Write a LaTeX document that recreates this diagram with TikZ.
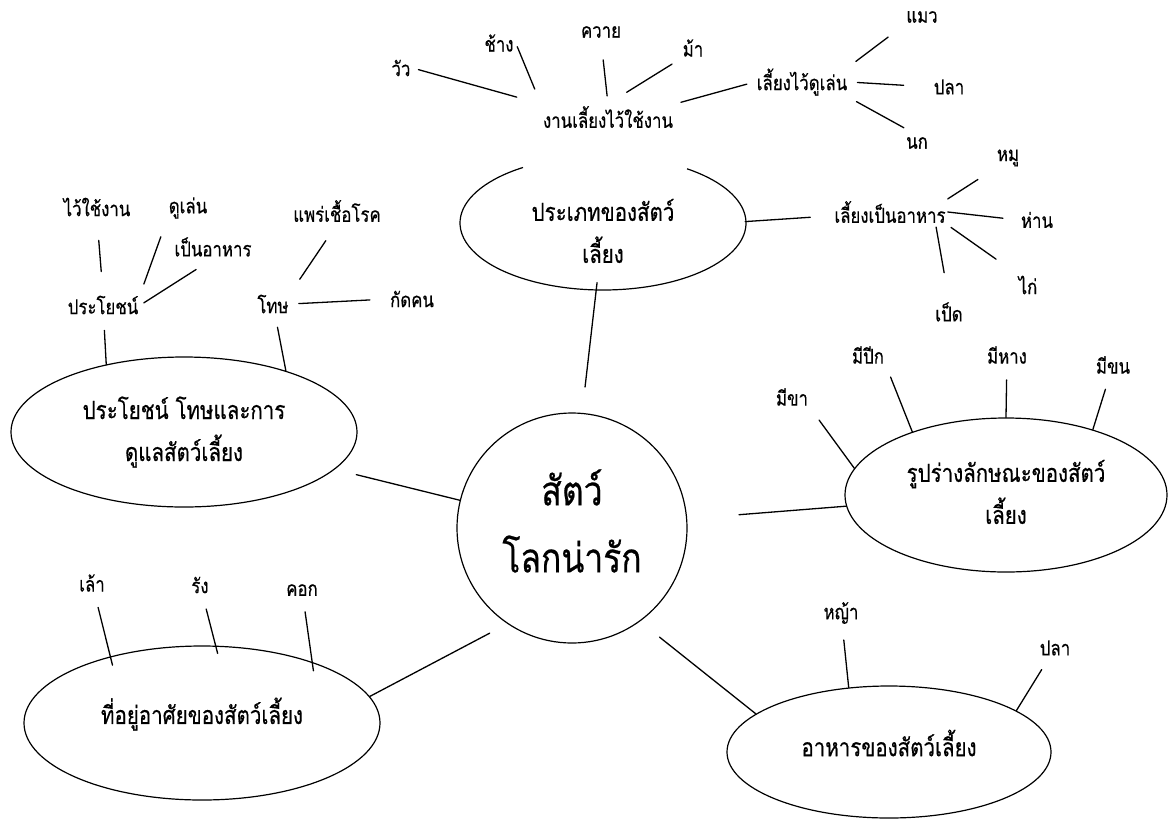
\documentclass[tikz,border=0pt]{standalone}
\usepackage{fontspec}
\setmainfont[Script=Thai, FakeStretch=0.82, FakeBold=0.5]{Loma}
\usetikzlibrary{shapes.geometric}

\newcommand{\monte}[2]{\raisebox{#1}[\height][\depth]{#2}}

\tikzset{
	mot/.style={font=\fontsize{20.5}{24}\selectfont, inner sep=2pt},
	bulle/.style={draw, ellipse, line width=1.2pt, inner sep=0pt, align=center, font=\fontsize{25}{42}\selectfont},
	trait/.style={line width=1.3pt, line cap=round}
}

\begin{document}
\begin{tikzpicture}[x=1pt,y=-1pt]
\useasboundingbox (0,0) rectangle (1173,823);
%					Cercle central :
					\node[draw, circle, line width=1.2pt, minimum size=230pt, align=center, font=\fontsize{41}{67}\selectfont] (centre) at (572,528) {\monte{7pt}{สัตว์}\\\monte{7pt}{โลกน่ารัก}};
%					Bulles :
					\node[bulle, draw=none, minimum width=286pt, minimum height=134pt] (type) at (603,231) {ประเภทของสัตว์\\เลี้ยง};
					\draw[line width=1.2pt] ([shift={(603,223)}]306:143 and 67) arc[start angle=306, end angle=596, x radius=143, y radius=67];
					\node[bulle, minimum width=346pt, minimum height=150pt] (care) at (184,432) {ประโยชน์ โทษและการ\\ดูแลสัตว์เลี้ยง};
					\node[bulle, minimum width=322pt, minimum height=154pt] (shape) at (1006,495) {\monte{3pt}{รูปร่างลักษณะของสัตว์}\\\monte{3pt}{เลี้ยง}};
					\node[bulle, minimum width=356pt, minimum height=154pt] (home) at (202,723) {\monte{9pt}{ที่อยู่อาศัยของสัตว์เลี้ยง}};
					\node[bulle, minimum width=324pt, minimum height=132pt] (food) at (889,752) {\monte{9pt}{อาหารของสัตว์เลี้ยง}};
%					Mots du haut :
					\node[mot] (work) at (608,117) {งานเลี้ยงไว้ใช้งาน};
					\node[mot] (wua) at (401,68) {วัว};
					\node[mot] (chang) at (499,43) {ช้าง};
					\node[mot] (khwai) at (601,32) {ควาย};
					\node[mot] (ma) at (693,48) {ม้า};
					\node[mot] (pet) at (802,82) {เลี้ยงไว้ดูเล่น};
					\node[mot] (maeo) at (922,17) {แมว};
					\node[mot] (pla) at (949,87) {ปลา};
					\node[mot] (nok) at (917,143) {นก};
					\node[mot] (feed) at (890,212) {เลี้ยงเป็นอาหาร};
					\node[mot] (mu) at (1008,158) {หมู};
					\node[mot] (han) at (1037,220) {ห่าน};
					\node[mot] (kai) at (1028,285) {ไก่};
					\node[mot] (duck) at (949,312) {เป็ด};
%					Mots de gauche :
					\node[mot] (use) at (97,207) {ไว้ใช้งาน};
					\node[mot] (play) at (188,208) {ดูเล่น};
					\node[mot] (eat) at (213,247) {เป็นอาหาร};
					\node[mot] (germ) at (337,211) {แพร่เชื้อโรค};
					\node[mot] (good) at (103,305) {ประโยชน์};
					\node[mot] (bad) at (273,304) {โทษ};
					\node[mot] (bite) at (412,299) {กัดคน};
%					Mots de droite et du bas :
					\node[mot] (legs) at (792,397) {มีขา};
					\node[mot] (wings) at (868,355) {มีปีก};
					\node[mot] (tail) at (1007,355) {มีหาง};
					\node[mot] (fur) at (1113,365) {มีขน};
					\node[mot] (coop) at (92,583) {เล้า};
					\node[mot] (nest) at (200,585) {รัง};
					\node[mot] (pen) at (302,590) {คอก};
					\node[mot] (grass) at (841,613) {หญ้า};
					\node[mot] (fish) at (1055,648) {ปลา};
%					Traits vers le cercle :
					\draw[trait, shorten <=-16pt, shorten >=26pt] (type) -- (centre.85);
					\draw[trait, shorten <=22pt] (care) -- (centre);
					\draw[trait, shorten >=52pt] (shape.184) -- (centre);
					\draw[trait, shorten >=20pt] (home.9) -- (centre.236);
					\draw[trait, shorten >=25pt] (food.164) -- (centre.-54);
%					Traits du haut :
					\draw[trait, shorten <=6pt, shorten >=25pt] (wua.east) -- (work.north west);
					\draw[trait, shorten <=4pt, shorten >=16pt] (chang.east) -- (work.north west);
					\draw[trait, shorten <=20pt, shorten >=8pt] (khwai.south) -- (work.north);
					\draw[trait, shorten <=10pt, shorten >=22pt] (ma.south west) -- (work.north);
					\draw[trait, shorten <=6pt, shorten >=8pt] (work.north east) -- (pet.west);
					\draw[trait, shorten <=8pt, shorten >=20pt] (pet.north east) -- (maeo.south west);
					\draw[trait, shorten <=8pt, shorten >=28pt] (pet.east) -- (pla.west);
					\draw[trait, shorten <=8pt, shorten >=15pt] (pet.south east) -- (nok.north);
					\draw[trait, shorten >=22pt] (type) -- (feed);
					\draw[trait, shorten >=20pt] (feed.north east) -- (mu.south west);
					\draw[trait, shorten >=16pt] (feed.east) -- (han.west);
					\draw[trait, shorten <=4pt, shorten >=25pt] (feed.south east) -- (kai.north west);
					\draw[trait, shorten <=2pt, shorten >=28pt] ([xshift=-12pt]feed.south east) -- (duck.north);
%					Traits de gauche :
					\draw[trait, shorten <=22pt, shorten >=22pt] (use.south) -- (good.north);
					\draw[trait, shorten <=17pt, shorten >=10pt] (play.south west) -- (good.north east);
					\draw[trait, shorten <=20pt, shorten >=4pt] (eat.south) -- (good.east);
					\draw[trait, shorten <=20pt, shorten >=16pt] (germ.south) -- (bad.north east);
					\draw[trait, shorten <=8pt, shorten >=18pt] (bad.east) -- (bite.west);
					\draw[trait, shorten <=14pt] (good) -- (care.139);
					\draw[trait, shorten <=12pt] (bad) -- (care.31);
%					Traits de droite et du bas :
					\draw[trait, shorten <=15pt] (legs.south east) -- (shape.170);
					\draw[trait, shorten <=12pt] (wings.south east) -- (shape.146);
					\draw[trait, shorten <=14pt] (tail) -- (shape.north);
					\draw[trait, shorten <=14pt] (fur) -- (shape.37);
					\draw[trait, shorten <=14pt, shorten >=-9pt] (coop) -- (home.144);
					\draw[trait, shorten <=14pt, shorten >=-8pt] (nest) -- (home.80);
					\draw[trait, shorten <=14pt, shorten >=-9pt] (pen) -- (home.29);
					\draw[trait, shorten <=14pt] (grass) -- (food.122);
					\draw[trait, shorten <=14pt] (fish) -- (food.18);
\end{tikzpicture}
\end{document}
